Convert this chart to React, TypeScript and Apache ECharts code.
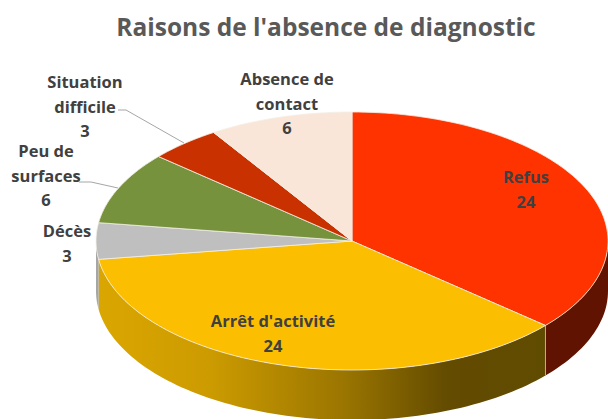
import React, { useEffect, useRef } from "react";
import * as echarts from "echarts";

const categories = ["Refus", "Arrêt d'activité", "Décès", "Peu de surfaces", "Situation difficile", "Absence de contact"];
const values = [24, 24, 3, 6, 3, 6];
const topColors = ["#FF3300", "#FCBE00", "#BFBFBF", "#76923C", "#C93200", "#F9E6D8"];
const labelLines = [
  ["Refus", "24"],
  ["Arrêt d'activité", "24"],
  ["Décès", "3"],
  ["Peu de", "surfaces", "6"],
  ["Situation", "difficile", "3"],
  ["Absence de", "contact", "6"],
];
const labelCenters = [
  [526, 189],
  [273, 333],
  [67, 243],
  [46, 175],
  [85, 106],
  [287, 103],
];

const CX = 352;
const CY = 241;
const RX = 256;
const RY = 129;
const DEPTH = 50;
const total = values.reduce((a, b) => a + b, 0);

const pt = (deg: number, dy = 0) => {
  const r = (deg * Math.PI) / 180;
  return [CX + RX * Math.sin(r), CY - RY * Math.cos(r) + dy];
};

const arc = (a: number, b: number, dy = 0) => {
  const out: number[][] = [];
  const n = Math.max(2, Math.ceil(Math.abs(b - a) / 1.5));
  for (let i = 0; i <= n; i++) out.push(pt(a + ((b - a) * i) / n, dy));
  return out;
};

const wallFill = (i: number) => {
  if (i === 0) return "#601300";
  if (i === 1)
    return new echarts.graphic.LinearGradient(0, 0, 1, 0, [
      { offset: 0, color: "#DAA600" },
      { offset: 0.25, color: "#CC9B00" },
      { offset: 0.55, color: "#9A7500" },
      { offset: 0.78, color: "#634B00" },
      { offset: 1, color: "#604C00" },
    ]);
  return "#A6A6A6";
};

const renderItem = (params: any, api: any) => {
  const i = params.dataIndex;
  const start = (values.slice(0, i).reduce((a, b) => a + b, 0) / total) * 360;
  const end = start + (api.value(0) / total) * 360;
  const children: any[] = [];
  const wallA = Math.max(start, 90);
  const wallB = Math.min(end, 270);
  if (wallB > wallA) {
    children.push({
      type: "polygon",
      z2: 1,
      shape: { points: [...arc(wallA, wallB, 0), ...arc(wallB, wallA, DEPTH)] },
      style: { fill: wallFill(i), stroke: null },
    });
    if (i === 0) {
      children.push({
        type: "line",
        z2: 2,
        shape: { x1: pt(wallB)[0], y1: pt(wallB)[1], x2: pt(wallB)[0], y2: pt(wallB)[1] + DEPTH },
        style: { stroke: "#B5AE98", lineWidth: 1 },
      });
    }
  }
  children.push({
    type: "polygon",
    z2: 3,
    shape: { points: [[CX, CY], ...arc(start, end)] },
    style: { fill: topColors[i], stroke: "#F4EFE6", lineWidth: 0.8 },
  });
  const lines = labelLines[i];
  const [lx, ly] = labelCenters[i];
  children.push({
    type: "text",
    z2: 5,
    x: lx,
    y: ly,
    style: {
      text: lines.join("\n"),
      fill: "#404040",
      font: 'bold 16.5px "Open Sans"',
      lineHeight: 24.5,
      align: "center",
      verticalAlign: "middle",
    },
  });
  return { type: "group", children };
};

export default function App() {
  const ref = useRef<HTMLDivElement>(null);
  useEffect(() => {
    const chart = echarts.init(ref.current!, undefined, { renderer: "svg" });
    chart.setOption({
      animation: false,
      backgroundColor: "#ffffff",
      title: {
        text: "Raisons de l'absence de diagnostic",
        left: 321,
        top: 9,
        textAlign: "center",
        textStyle: { color: "#595959", fontFamily: "Open Sans", fontWeight: "bold", fontSize: 24.5 },
      },
      series: [
        {
          type: "custom",
          coordinateSystem: "none",
          renderItem,
          clip: false,
          data: values.map((v, i) => ({ name: categories[i], value: [v] })),
          encode: { value: 0 },
        },
      ],
      graphic: [
        {
          type: "polyline",
          z: 1,
          shape: { points: [[118, 110], [126, 110], [184, 143]] },
          style: { stroke: "#A6A6A6", fill: null, lineWidth: 1 },
        },
        {
          type: "polyline",
          z: 1,
          shape: { points: [[79, 182], [91, 182], [118, 188]] },
          style: { stroke: "#A6A6A6", fill: null, lineWidth: 1 },
        },
      ],
    });
    return () => chart.dispose();
  }, []);
  return <div ref={ref} style={{ position: "fixed", left: 0, top: 0, width: 608, height: 419 }} />;
}
